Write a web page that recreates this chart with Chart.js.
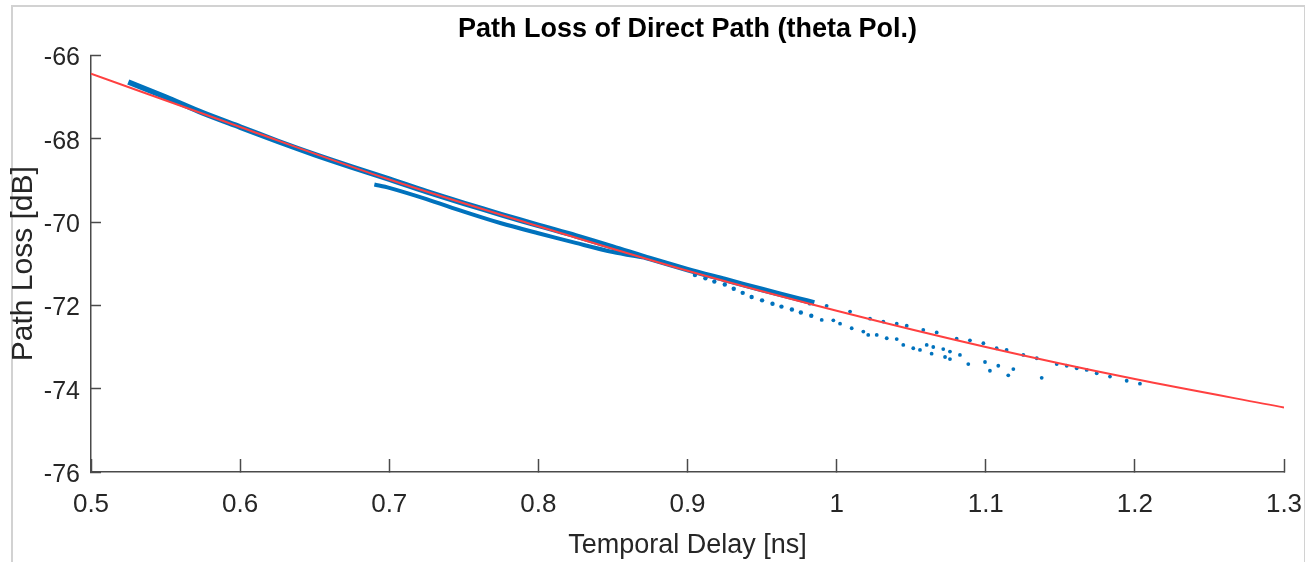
<!DOCTYPE html>
<html>
<head>
<meta charset="utf-8">
<title>Path Loss of Direct Path (theta Pol.)</title>
<script src="https://cdn.jsdelivr.net/npm/chart.js@4/dist/chart.umd.min.js"></script>
<style>
  html, body { margin: 0; padding: 0; background: #ffffff; }
  #wrap { position: relative; width: 1305px; height: 562px; overflow: hidden; background: #ffffff; }
  #frame {
    position: absolute; left: 11px; top: 5px; width: 1291px; height: 620px;
    border: 2px solid #d2d2d2; border-bottom: none; pointer-events: none;
  }
  canvas { position: absolute; left: 0; top: 0; }
</style>
</head>
<body>
<div id="wrap">
  <div id="frame"></div>
  <canvas id="chart" width="1305" height="562"></canvas>
</div>
<script>
// Axis ticks
const delayTicks = [0.5, 0.6, 0.7, 0.8, 0.9, 1.0, 1.1, 1.2, 1.3];
const lossTicks = [-76, -74, -72, -70, -68, -66];

// Fitted path-loss curve (red)
const fitDelay = [0.5, 0.6, 0.7, 0.8, 0.9, 1.0, 1.1, 1.2, 1.3];
const fitLoss  = [-66.44, -67.72, -68.98, -70.10, -71.17, -72.13, -73.00, -73.77, -74.45];

// Dense band of measured samples, main branch
const mainDelay = [0.525, 0.55, 0.575, 0.6, 0.625, 0.65, 0.675, 0.7, 0.725, 0.75,
                   0.775, 0.8, 0.825, 0.85, 0.875, 0.9, 0.925, 0.95, 0.975, 0.985];
const mainLoss  = [-66.64, -67.0, -67.38, -67.72, -68.06, -68.38, -68.68, -68.97, -69.27, -69.55,
                   -69.82, -70.08, -70.33, -70.6, -70.88, -71.14, -71.38, -71.62, -71.85, -71.94];

// Dense band, lower branch
const lowerDelay = [0.69, 0.70, 0.725, 0.75, 0.775, 0.80, 0.825, 0.85, 0.87];
const lowerLoss  = [-69.10, -69.18, -69.45, -69.75, -70.03, -70.27, -70.50, -70.72, -70.85];

// Second row of samples where the band widens
const rowDelay = [0.905, 0.912, 0.918, 0.925, 0.931, 0.937, 0.943, 0.95, 0.957, 0.963, 0.97, 0.976, 0.983];
const rowLoss  = [-71.27, -71.35, -71.43, -71.50, -71.60, -71.70, -71.80, -71.88, -71.96, -72.03, -72.10, -72.17, -72.25];

// Sparse samples, upper row of the tail
const tailDelay = [0.982, 0.9933, 1.009, 1.0224, 1.0313, 1.0403, 1.047, 1.0581, 1.0671, 1.0805,
                   1.0894, 1.0984, 1.1073, 1.114, 1.1252, 1.1342, 1.1476, 1.1543, 1.161, 1.1677,
                   1.1744, 1.1833, 1.1945, 1.2034];
const tailLoss  = [-71.96, -72.01, -72.15, -72.32, -72.39, -72.44, -72.49, -72.59, -72.65, -72.80,
                   -72.84, -72.91, -73.03, -73.07, -73.19, -73.27, -73.41, -73.45, -73.51, -73.55,
                   -73.63, -73.71, -73.81, -73.88];

// Sparse samples below the fit
const lowTailDelay = [0.99, 0.9978, 1.0023, 1.0101, 1.0179, 1.0212, 1.0269, 1.0336, 1.0403, 1.0447,
                      1.0514, 1.0604, 1.0648, 1.0559, 1.0637, 1.0715, 1.076, 1.0827, 1.0727, 1.076,
                      1.0883, 1.0995, 1.1028, 1.1084, 1.1151, 1.1185, 1.1375];
const lowTailLoss  = [-72.35, -72.36, -72.44, -72.55, -72.63, -72.71, -72.71, -72.79, -72.81, -72.95,
                      -73.03, -72.95, -73.00, -73.07, -73.16, -73.05, -73.11, -73.19, -73.24, -73.29,
                      -73.41, -73.36, -73.57, -73.45, -73.68, -73.53, -73.74];

const zip = (xs, ys) => xs.map((x, i) => ({ x: x, y: ys[i] }));

const BLUE = '#0072BD';
const RED = 'rgb(255, 64, 64)';
const AXIS = '#4a4a4a';
const TEXT = '#262626';
const FONT = "'Liberation Sans', Arial, Helvetica, sans-serif";

new Chart(document.getElementById('chart'), {
  type: 'scatter',
  data: {
    datasets: [
      { label: 'fit', data: zip(fitDelay, fitLoss), showLine: true, borderColor: RED,
        borderWidth: 2, pointRadius: 0, cubicInterpolationMode: 'monotone', order: 0 },
      { label: 'main', data: zip(mainDelay, mainLoss), showLine: true, borderColor: BLUE,
        borderWidth: 5.5, pointRadius: 0, tension: 0.3, order: 2 },
      { label: 'lower', data: zip(lowerDelay, lowerLoss), showLine: true, borderColor: BLUE,
        borderWidth: 4, pointRadius: 0, tension: 0.3, order: 2 },
      { label: 'row', data: zip(rowDelay, rowLoss), backgroundColor: BLUE, borderWidth: 0,
        pointRadius: 2.2, order: 2 },
      { label: 'tail', data: zip(tailDelay, tailLoss), backgroundColor: BLUE, borderWidth: 0,
        pointRadius: 1.9, order: 2 },
      { label: 'lowTail', data: zip(lowTailDelay, lowTailLoss), backgroundColor: BLUE, borderWidth: 0,
        pointRadius: 1.9, order: 2 }
    ]
  },
  options: {
    responsive: false,
    animation: false,
    events: [],
    layout: { padding: { left: 0, right: 21, top: 0, bottom: 0 } },
    plugins: {
      legend: { display: false },
      tooltip: { enabled: false },
      title: {
        display: true,
        fullSize: false,
        text: 'Path Loss of Direct Path (theta Pol.)',
        color: '#000000',
        font: { family: FONT, size: 27, weight: 'bold', lineHeight: 1.2 },
        padding: { top: 13, bottom: 10 }
      }
    },
    scales: {
      x: {
        type: 'linear',
        min: 0.5, max: 1.3,
        afterFit: s => { s.height = 90; s.paddingLeft = 0; s.paddingRight = 0; },
        afterBuildTicks: s => { s.ticks = delayTicks.map(v => ({ value: v })); },
        border: { display: true, color: AXIS, width: 1.5 },
        grid: { drawOnChartArea: false, drawTicks: true, tickLength: -13, tickColor: AXIS, tickWidth: 1.5 },
        ticks: {
          padding: 30,
          color: TEXT,
          maxRotation: 0,
          font: { family: FONT, size: 26 },
          callback: v => String(+Number(v).toFixed(1))
        },
        title: {
          display: true, text: 'Temporal Delay [ns]', color: TEXT,
          font: { family: FONT, size: 27, lineHeight: 1.2 },
          padding: { top: 2, bottom: 0 }
        }
      },
      y: {
        type: 'linear',
        min: -76, max: -66,
        afterFit: s => { s.width = 91; s.paddingTop = 0; s.paddingBottom = 0; },
        afterBuildTicks: s => { s.ticks = lossTicks.map(v => ({ value: v })); },
        border: { display: true, color: AXIS, width: 1.5 },
        grid: { drawOnChartArea: false, drawTicks: true, tickLength: -10, tickColor: AXIS, tickWidth: 1.5 },
        ticks: {
          padding: 21,
          labelOffset: 3,
          color: TEXT,
          font: { family: FONT, size: 25 },
          callback: v => String(v)
        },
        title: {
          display: true, text: 'Path Loss [dB]', color: TEXT,
          font: { family: FONT, size: 30, lineHeight: 1.2 },
          padding: { top: 6, bottom: 0 }
        }
      }
    }
  }
});
</script>
</body>
</html>
